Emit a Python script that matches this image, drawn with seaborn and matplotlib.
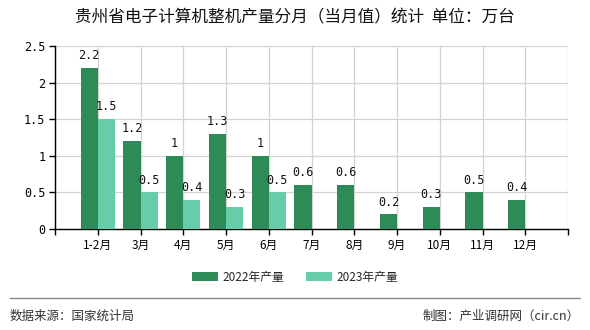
import matplotlib
matplotlib.use("Agg")
import matplotlib.pyplot as plt
import seaborn as sns
import pandas as pd
import numpy as np
from matplotlib.patches import Patch
from matplotlib.lines import Line2D

months = ["1-2月", "3月", "4月", "5月", "6月", "7月", "8月", "9月", "10月", "11月", "12月"]
prod_2022 = [2.2, 1.2, 1, 1.3, 1, 0.6, 0.6, 0.2, 0.3, 0.5, 0.4]
prod_2023 = [1.5, 0.5, 0.4, 0.3, 0.5, None, None, None, None, None, None]
series_names = ["2022年产量", "2023年产量"]
colors = ["#2E8B57", "#66CDAA"]
y_ticks = [0, 0.5, 1, 1.5, 2, 2.5]
y_tick_labels = ["0", "0.5", "1", "1.5", "2", "2.5"]

rows = []
for m, a, b in zip(months, prod_2022, prod_2023):
    rows.append({"month": m, "series": series_names[0], "value": a})
    rows.append({"month": m, "series": series_names[1], "value": b})
df = pd.DataFrame(rows)

sns.set_theme(style="white")
plt.rcParams["font.family"] = ["Noto Sans CJK SC", "DejaVu Sans"]

fig = plt.figure(figsize=(5.9, 3.3), dpi=100)
ax = fig.add_axes([55/590, 1-229/330, (568-55)/590, (229-46)/330])

sns.barplot(data=df, x="month", y="value", hue="series", order=months,
            hue_order=series_names, palette=colors, width=0.8, saturation=1,
            errorbar=None, ax=ax, legend=False, zorder=3, linewidth=0, edgecolor="none")

# value labels
mono = ["DejaVu Sans Mono"]
for cont in ax.containers:
    for bar in cont:
        h = bar.get_height()
        if h is None or np.isnan(h) or h == 0:
            continue
        lbl = f"{h:g}"
        ax.text(bar.get_x() + bar.get_width()/2, h + 0.08, lbl, ha="center", va="bottom",
                fontsize=8.5, family=mono, color="#111111", zorder=4)

ax.set_xlim(-1, len(months))
ax.set_ylim(0, 2.5)
ax.set_xticks(range(-1, len(months) + 1))
ax.set_xticklabels([""] + months + [""], fontsize=8.5)
ax.set_yticks(y_ticks)
ax.set_yticklabels(y_tick_labels, fontsize=8.5, family=mono)
ax.set_xlabel("")
ax.set_ylabel("")
ax.grid(True, color="#d3d3d3", linewidth=0.9, zorder=0)
ax.set_axisbelow(True)
for s in ["top", "right"]:
    ax.spines[s].set_visible(False)
for s in ["left", "bottom"]:
    ax.spines[s].set_color("#000000")
    ax.spines[s].set_linewidth(1)
ax.tick_params(axis="both", which="both", length=4, width=1, color="#000000",
               bottom=True, left=True, pad=3, colors="#000000")

fig.text(0.5, 1-18/330, "贵州省电子计算机整机产量分月（当月值）统计  单位：万台",
         ha="center", va="center", fontsize=12, color="#111111")

handles = [Patch(facecolor=c, edgecolor="none") for c in colors]
fig.legend(handles, series_names, loc="center", bbox_to_anchor=(0.5, 1-277/330),
           ncol=2, frameon=False, fontsize=8.5, handlelength=2.2, handleheight=0.7,
           columnspacing=1.8, handletextpad=0.4)

fig.add_artist(Line2D([10/590, 580/590], [1-298/330, 1-298/330], color="#888888",
                      linewidth=1, transform=fig.transFigure))
fig.text(10/590, 1-316/330, "数据来源：国家统计局", ha="left", va="center",
         fontsize=9, color="#333333")
fig.text(580/590, 1-316/330, "制图：产业调研网（cir.cn）", ha="right", va="center",
         fontsize=9, color="#333333")

fig.savefig("out.png", dpi=100)
